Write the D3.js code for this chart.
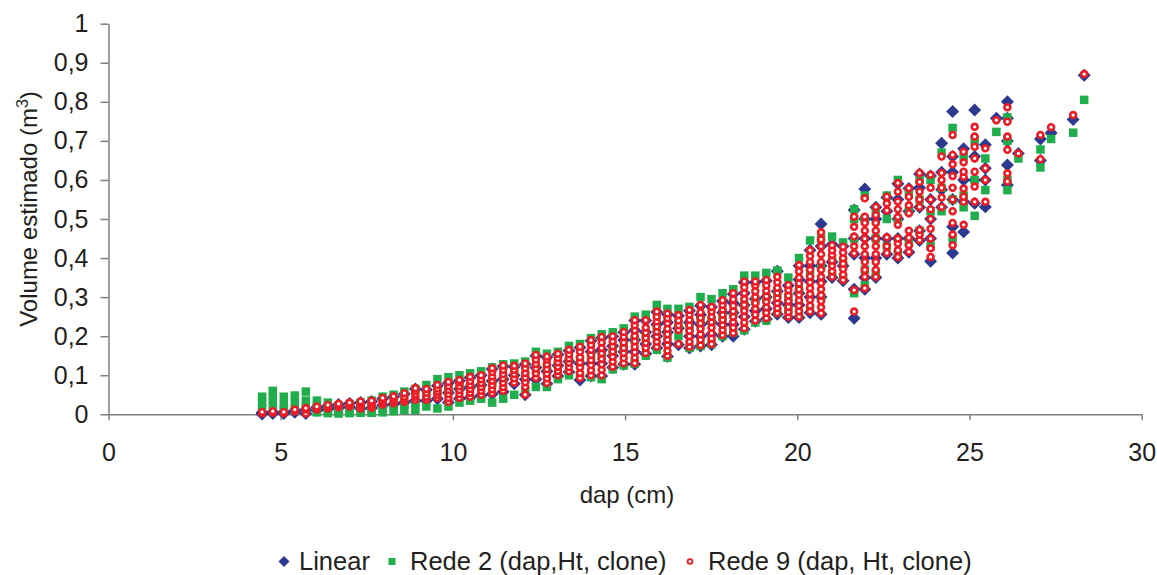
<!DOCTYPE html>
<html>
<head>
<meta charset="utf-8">
<script src="https://cdn.jsdelivr.net/npm/d3@7"></script>
<style>
  body { margin: 0; background: #fff; }
  text { font-family: "Liberation Sans", Arial, sans-serif; fill: #231f20; }
</style>
</head>
<body>
<div id="chart"></div>
<script>
// dap classes (cm) - one column of trees per class
const dap = [4.46, 4.77, 5.09, 5.41, 5.73, 6.05, 6.37, 6.68, 7.00, 7.32, 7.64, 7.96, 8.28, 8.59, 8.91, 9.23, 9.55, 9.87,
  10.19, 10.50, 10.82, 11.14, 11.46, 11.78, 12.10, 12.41, 12.73, 13.05, 13.37, 13.69, 14.01, 14.32, 14.64, 14.96,
  15.28, 15.60, 15.92, 16.23, 16.55, 16.87, 17.19, 17.51, 17.83, 18.14, 18.46, 18.78, 19.10, 19.42, 19.74,
  20.05, 20.37, 20.69, 21.01, 21.33, 21.65, 21.96, 22.28, 22.60, 22.92, 23.24, 23.55, 23.87, 24.19, 24.51, 24.83,
  25.15, 25.46, 25.78, 26.10, 26.42, 27.06, 27.37, 28.01, 28.33]

// estimated volume (m3) per column, same order as dap
const linear = [
  [0.001, 0.004], [0.002, 0.006], [0.002, 0.005], [0.005, 0.01], [0.002, 0.012], [0.01, 0.018], [0.013, 0.022],
  [0.016, 0.025], [0.019, 0.028], [0.014, 0.03], [0.016, 0.033], [0.023, 0.04], [0.026, 0.045], [0.03, 0.052],
  [0.035, 0.065], [0.035, 0.063], [0.04, 0.073], [0.03, 0.055, 0.08], [0.04, 0.065, 0.086], [0.043, 0.07, 0.094],
  [0.048, 0.075, 0.1], [0.052, 0.085, 0.116], [0.058, 0.09, 0.123], [0.078, 0.1, 0.122], [0.05, 0.09, 0.128],
  [0.09, 0.12, 0.15], [0.078, 0.11, 0.146], [0.098, 0.125, 0.153], [0.108, 0.135, 0.163], [0.088, 0.13, 0.171],
  [0.098, 0.13, 0.16, 0.188], [0.098, 0.13, 0.165, 0.196], [0.12, 0.15, 0.175, 0.2], [0.128, 0.16, 0.19, 0.21],
  [0.128, 0.16, 0.19, 0.215, 0.24], [0.155, 0.18, 0.21, 0.24], [0.17, 0.2, 0.23, 0.262],
  [0.148, 0.18, 0.21, 0.235, 0.256], [0.178, 0.22, 0.252], [0.17, 0.2, 0.235, 0.265],
  [0.175, 0.2, 0.23, 0.255, 0.278], [0.178, 0.205, 0.235, 0.275], [0.2, 0.23, 0.26, 0.29],
  [0.2, 0.23, 0.26, 0.285, 0.308], [0.218, 0.25, 0.28, 0.31, 0.338], [0.238, 0.265, 0.295, 0.338],
  [0.244, 0.27, 0.3, 0.342], [0.256, 0.285, 0.315, 0.366], [0.248, 0.28, 0.33],
  [0.248, 0.28, 0.31, 0.345, 0.38], [0.26, 0.3, 0.34, 0.38, 0.42], [0.256, 0.3, 0.34, 0.38, 0.43, 0.487],
  [0.35, 0.39, 0.435], [0.342, 0.38, 0.43], [0.246, 0.32, 0.41, 0.45, 0.523], [0.32, 0.35, 0.4, 0.45, 0.5, 0.577],
  [0.35, 0.4, 0.45, 0.5, 0.53], [0.41, 0.45, 0.52, 0.555], [0.4, 0.45, 0.5, 0.55, 0.59], [0.415, 0.45, 0.52, 0.578],
  [0.445, 0.47, 0.53, 0.58, 0.615], [0.392, 0.45, 0.5, 0.55, 0.61], [0.53, 0.575, 0.62, 0.694],
  [0.413, 0.48, 0.55, 0.62, 0.66, 0.775], [0.467, 0.545, 0.6, 0.68], [0.54, 0.6, 0.66, 0.779],
  [0.531, 0.6, 0.63, 0.69], [0.758], [0.587, 0.638, 0.7, 0.758, 0.8], [0.668], [0.65, 0.705], [0.72], [0.755], [0.868]
]

const rede2 = [
  [0.045, 0.03, 0.015], [0.06, 0.04, 0.02], [0.045, 0.025, 0.012], [0.048, 0.03, 0.01], [0.058, 0.035, 0.015],
  [0.035, 0.02, 0.005], [0.03, 0.012, 0.003], [0.02, 0.006, 0.002], [0.025, 0.008, 0.003], [0.03, 0.01, 0.004],
  [0.035, 0.012, 0.004], [0.045, 0.015, 0.005], [0.05, 0.02, 0.008], [0.058, 0.025, 0.011], [0.065, 0.03, 0.011],
  [0.075, 0.05, 0.02], [0.09, 0.06, 0.015], [0.095, 0.06, 0.02], [0.1, 0.07, 0.03], [0.105, 0.07, 0.035],
  [0.11, 0.075, 0.04], [0.12, 0.08, 0.03], [0.128, 0.09, 0.04], [0.13, 0.1, 0.05], [0.135, 0.1, 0.06],
  [0.16, 0.12, 0.07], [0.155, 0.12, 0.07], [0.16, 0.13, 0.09], [0.175, 0.14, 0.1], [0.18, 0.14, 0.1],
  [0.195, 0.15, 0.095], [0.205, 0.15, 0.09], [0.21, 0.16, 0.115], [0.22, 0.17, 0.125], [0.25, 0.19, 0.13],
  [0.255, 0.2, 0.15], [0.28, 0.22, 0.165], [0.27, 0.2, 0.145], [0.27, 0.23, 0.2], [0.275, 0.22, 0.17],
  [0.3, 0.24, 0.175], [0.295, 0.24, 0.18], [0.31, 0.25, 0.2], [0.32, 0.26, 0.21], [0.355, 0.28, 0.215],
  [0.355, 0.29, 0.235], [0.362, 0.3, 0.24], [0.368, 0.31, 0.26], [0.35, 0.3, 0.268], [0.4, 0.32, 0.26],
  [0.445, 0.36, 0.27], [0.45, 0.38, 0.3], [0.455, 0.4, 0.36], [0.44, 0.39, 0.35], [0.31, 0.45, 0.5, 0.525],
  [0.33, 0.37, 0.5, 0.56], [0.36, 0.45, 0.52], [0.43, 0.5, 0.56], [0.41, 0.5, 0.6], [0.44, 0.52, 0.57],
  [0.47, 0.55, 0.6], [0.43, 0.52, 0.6], [0.52, 0.58, 0.67], [0.45, 0.55, 0.733], [0.53, 0.56, 0.66],
  [0.508, 0.6, 0.7], [0.574, 0.655], [0.723], [0.574, 0.6, 0.7, 0.76], [0.655], [0.632, 0.678], [0.705], [0.721], [0.805]
]

const rede9 = [
  [0.003, 0.006], [0.004, 0.008], [0.003, 0.006], [0.007, 0.012], [0.002, 0.012, 0.016], [0.012, 0.016, 0.02],
  [0.015, 0.02, 0.024], [0.018, 0.023, 0.027], [0.02, 0.025, 0.03], [0.015, 0.022, 0.028, 0.033],
  [0.017, 0.024, 0.03, 0.035], [0.025, 0.03, 0.036, 0.042], [0.028, 0.034, 0.04, 0.046], [0.032, 0.038, 0.045, 0.054],
  [0.037, 0.045, 0.052, 0.06, 0.067], [0.037, 0.045, 0.055, 0.065], [0.042, 0.05, 0.058, 0.066, 0.075],
  [0.032, 0.042, 0.052, 0.062, 0.072, 0.083], [0.042, 0.052, 0.062, 0.072, 0.082, 0.088],
  [0.045, 0.055, 0.065, 0.075, 0.085, 0.096], [0.05, 0.06, 0.07, 0.08, 0.09, 0.1],
  [0.054, 0.064, 0.075, 0.086, 0.097, 0.108, 0.118], [0.06, 0.07, 0.081, 0.092, 0.103, 0.114, 0.125],
  [0.081, 0.092, 0.103, 0.114, 0.124], [0.05, 0.07, 0.082, 0.094, 0.106, 0.118, 0.13],
  [0.093, 0.105, 0.117, 0.129, 0.14, 0.152], [0.08, 0.092, 0.104, 0.116, 0.128, 0.14, 0.148],
  [0.1, 0.111, 0.122, 0.133, 0.144, 0.155], [0.11, 0.121, 0.132, 0.143, 0.154, 0.165],
  [0.093, 0.106, 0.12, 0.133, 0.146, 0.16, 0.173], [0.1, 0.113, 0.126, 0.139, 0.152, 0.165, 0.178, 0.19],
  [0.1, 0.114, 0.128, 0.142, 0.156, 0.17, 0.184, 0.198], [0.122, 0.135, 0.148, 0.161, 0.174, 0.187, 0.2],
  [0.131, 0.144, 0.157, 0.17, 0.184, 0.198, 0.211], [0.131, 0.145, 0.159, 0.173, 0.187, 0.201, 0.215, 0.228, 0.241],
  [0.157, 0.17, 0.183, 0.196, 0.209, 0.222, 0.241], [0.173, 0.186, 0.199, 0.212, 0.225, 0.238, 0.25, 0.263],
  [0.15, 0.163, 0.177, 0.191, 0.205, 0.219, 0.233, 0.246, 0.258], [0.18, 0.216, 0.228, 0.24, 0.254],
  [0.173, 0.186, 0.2, 0.214, 0.228, 0.242, 0.255, 0.267], [0.177, 0.191, 0.205, 0.219, 0.233, 0.247, 0.261, 0.28],
  [0.18, 0.194, 0.208, 0.222, 0.236, 0.25, 0.263, 0.275], [0.203, 0.216, 0.229, 0.242, 0.255, 0.268, 0.28, 0.292],
  [0.208, 0.222, 0.236, 0.25, 0.264, 0.278, 0.294, 0.31], [0.22, 0.235, 0.25, 0.265, 0.28, 0.295, 0.31, 0.325, 0.34],
  [0.24, 0.255, 0.27, 0.285, 0.3, 0.315, 0.33, 0.34], [0.246, 0.26, 0.274, 0.288, 0.302, 0.316, 0.33, 0.344],
  [0.259, 0.272, 0.285, 0.298, 0.311, 0.324, 0.338, 0.352], [0.25, 0.262, 0.275, 0.29, 0.304, 0.318, 0.331],
  [0.25, 0.264, 0.278, 0.292, 0.306, 0.32, 0.335, 0.35, 0.366, 0.382],
  [0.263, 0.278, 0.293, 0.308, 0.323, 0.338, 0.353, 0.37, 0.39, 0.405, 0.42],
  [0.259, 0.274, 0.29, 0.305, 0.32, 0.336, 0.352, 0.37, 0.39, 0.41, 0.43, 0.448, 0.466],
  [0.352, 0.366, 0.38, 0.394, 0.408, 0.42, 0.433], [0.344, 0.358, 0.372, 0.386, 0.4, 0.414, 0.429],
  [0.263, 0.318, 0.412, 0.43, 0.455, 0.48, 0.506], [0.323, 0.352, 0.37, 0.39, 0.41, 0.43, 0.45, 0.47, 0.49, 0.506, 0.553],
  [0.352, 0.37, 0.39, 0.41, 0.43, 0.45, 0.47, 0.49, 0.51, 0.531], [0.413, 0.43, 0.453, 0.522, 0.54, 0.557],
  [0.403, 0.42, 0.437, 0.45, 0.485, 0.505, 0.525, 0.545, 0.57, 0.592], [0.416, 0.433, 0.452, 0.47, 0.515, 0.535, 0.557, 0.579],
  [0.446, 0.46, 0.472, 0.531, 0.55, 0.57, 0.595, 0.618], [0.403, 0.425, 0.45, 0.475, 0.5, 0.525, 0.55, 0.58, 0.613],
  [0.531, 0.555, 0.58, 0.6, 0.618, 0.66], [0.433, 0.46, 0.49, 0.52, 0.55, 0.58, 0.61, 0.64, 0.664, 0.715],
  [0.485, 0.544, 0.557, 0.578, 0.608, 0.621, 0.645, 0.672], [0.544, 0.583, 0.621, 0.655, 0.685, 0.711, 0.736],
  [0.544, 0.6, 0.63, 0.681], [0.753], [0.596, 0.617, 0.677, 0.711, 0.749, 0.786], [0.668], [0.653, 0.715],
  [0.735], [0.766], [0.871]
]

const xTicks = [0, 5, 10, 15, 20, 25, 30]
const yTicks = [0, 0.1, 0.2, 0.3, 0.4, 0.5, 0.6, 0.7, 0.8, 0.9, 1]
const yTickLabels = ['0', '0,1', '0,2', '0,3', '0,4', '0,5', '0,6', '0,7', '0,8', '0,9', '1']
const seriesNames = ['Linear', 'Rede 2 (dap,Ht, clone)', 'Rede 9 (dap, Ht, clone)']

const width = 1157
const height = 575
const margin = {top: 23.7, right: 15.3, bottom: 160.7, left: 108.5}
const blue = '#2b3990'
const green = '#1fae4b'
const red = '#ed1c24'
const axisColor = '#7f7f7f'

const svg = d3.select('#chart').append('svg')
  .attr('width', width)
  .attr('height', height)

const x = d3.scaleLinear().domain([0, 30]).range([margin.left, width - margin.right])
const y = d3.scaleLinear().domain([0, 1]).range([height - margin.bottom, margin.top])

// flatten columns into points
function points(series) {
  const out = []
  series.forEach((col, i) => col.forEach(v => out.push({dap: dap[i], vol: v})))
  return out
}

// axes
svg.append('g')
  .attr('transform', 'translate(' + margin.left + ',0)')
  .call(d3.axisLeft(y).tickValues(yTicks).tickFormat((d, i) => yTickLabels[i]).tickSize(8).tickSizeOuter(0).tickPadding(12))
svg.append('g')
  .attr('transform', 'translate(0,' + (height - margin.bottom) + ')')
  .call(d3.axisBottom(x).tickValues(xTicks).tickSize(6).tickSizeOuter(0).tickPadding(23))

svg.selectAll('.domain, .tick line').attr('stroke', axisColor).attr('stroke-width', 1.5)
svg.selectAll('.tick text').style('font-size', '25px').attr('fill', '#231f20')

// markers: Linear first, then Rede 2, Rede 9 on top
const diamond = d3.symbol(d3.symbolSquare, 84)()

svg.append('g').selectAll('path')
  .data(points(linear))
  .join('path')
  .attr('d', diamond)
  .attr('transform', d => 'translate(' + x(d.dap) + ',' + y(d.vol) + ') rotate(45)')
  .attr('fill', blue)

svg.append('g').selectAll('rect')
  .data(points(rede2))
  .join('rect')
  .attr('x', d => x(d.dap) - 4.25)
  .attr('y', d => y(d.vol) - 4.25)
  .attr('width', 8.5)
  .attr('height', 8.5)
  .attr('fill', green)

svg.append('g').selectAll('circle')
  .data(points(rede9))
  .join('circle')
  .attr('cx', d => x(d.dap))
  .attr('cy', d => y(d.vol))
  .attr('r', 2.95)
  .attr('fill', '#fff')
  .attr('stroke', red)
  .attr('stroke-width', 2.6)

// axis titles
svg.append('text')
  .attr('x', 627)
  .attr('y', 503)
  .attr('text-anchor', 'middle')
  .style('font-size', '24px')
  .text('dap (cm)')

const yTitle = svg.append('text')
  .attr('transform', 'translate(37,209) rotate(-90)')
  .attr('text-anchor', 'middle')
  .style('font-size', '24px')
yTitle.append('tspan').text('Volume estimado (m')
yTitle.append('tspan').attr('dy', -9).style('font-size', '16px').text('3')
yTitle.append('tspan').attr('dy', 9).text(')')

// legend
const legendY = 561.5
const legendX = [284, 392, 690]
const legend = svg.append('g')
seriesNames.forEach((name, i) => {
  const cx = legendX[i]
  if (i === 0) {
    legend.append('path').attr('d', d3.symbol(d3.symbolSquare, 60)())
      .attr('transform', 'translate(' + cx + ',' + legendY + ') rotate(45)').attr('fill', blue)
  } else if (i === 1) {
    legend.append('rect').attr('x', cx - 3.5).attr('y', legendY - 3.5).attr('width', 7).attr('height', 7).attr('fill', green)
  } else {
    legend.append('circle').attr('cx', cx).attr('cy', legendY).attr('r', 2.4)
      .attr('fill', '#fff').attr('stroke', red).attr('stroke-width', 1.8)
  }
  legend.append('text')
    .attr('x', cx + (i === 0 ? 15 : 18))
    .attr('y', legendY + 8.5)
    .style('font-size', '25.5px')
    .text(name)
})
</script>
</body>
</html>
